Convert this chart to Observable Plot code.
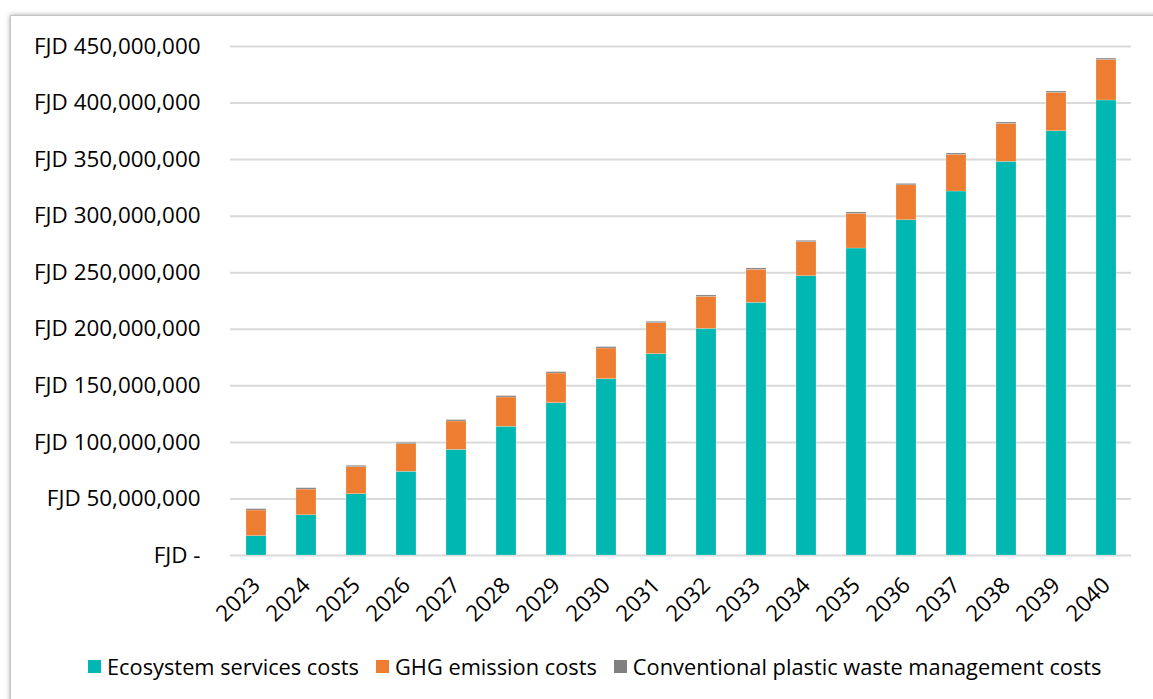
<!DOCTYPE html>
<html>
<head>
<meta charset="utf-8">
<script src="https://cdn.jsdelivr.net/npm/d3@7"></script>
<script src="https://cdn.jsdelivr.net/npm/@observablehq/plot@0.6"></script>
<style>
  html, body { margin: 0; padding: 0; background: #fff; }
  body { width: 1153px; height: 699px; position: relative; overflow: hidden; font-family: "Open Sans", sans-serif; }
  #frame {
    position: absolute; left: 10px; top: 15px; width: 1200px; height: 720px;
    border-left: 1px solid #c4c4c4; border-top: 1px solid #c4c4c4;
    box-shadow: 0 0 5px rgba(0,0,0,0.35); background: #fff;
  }
  #chart { position: absolute; left: 0; top: 0; }
  #legend {
    position: absolute; left: 88px; top: 652px; display: flex; align-items: center;
    font-size: 21.8px; color: #000; white-space: nowrap;
  }
  #legend .item { display: flex; align-items: center; margin-right: 17px; }
  #legend .sw { width: 13px; height: 13px; margin-right: 6px; }
</style>
</head>
<body>
<div id="frame"></div>
<div id="chart"></div>
<div id="legend"></div>
<script>
// Annual costs (FJD) by component, 2023–2040
const years = ["2023","2024","2025","2026","2027","2028","2029","2030","2031",
               "2032","2033","2034","2035","2036","2037","2038","2039","2040"];
const seriesNames = ["Ecosystem services costs", "GHG emission costs",
                     "Conventional plastic waste management costs"];
const seriesColors = ["#00B8B1", "#ED7D31", "#808080"];

// values in millions of FJD
const ecosystemCosts = [17.1, 35.6, 54.2, 74.0, 93.4, 113.8, 134.7, 155.9, 178.0,
                        200.4, 223.4, 246.9, 271.4, 296.4, 321.8, 348.0, 375.1, 402.3];
const ghgCosts       = [22.7, 22.7, 23.9, 24.4, 25.1, 25.9, 26.2, 27.1, 27.4,
                        28.3, 29.2, 30.1, 30.7, 30.9, 32.4, 33.6, 33.9, 35.8];
const wasteCosts     = [1.2, 1.2, 1.2, 1.2, 1.2, 1.2, 1.2, 1.2, 1.2,
                        1.2, 1.2, 1.2, 1.2, 1.2, 1.2, 1.2, 1.2, 1.2];

const yTicks = [0, 50e6, 100e6, 150e6, 200e6, 250e6, 300e6, 350e6, 400e6, 450e6];

const seriesValues = [ecosystemCosts, ghgCosts, wasteCosts];
const rows = years.flatMap((year, i) =>
  seriesNames.map((name, s) => ({ year, series: name, value: seriesValues[s][i] * 1e6 }))
);

const fmt = d3.format(",");
const chart = Plot.plot({
  width: 1153,
  height: 640,
  marginLeft: 230,
  marginRight: 22,
  marginTop: 46,
  marginBottom: 85,
  style: { fontFamily: "'Open Sans', sans-serif", fontSize: "22.4px", color: "#000", background: "transparent" },
  x: { domain: years, paddingInner: 0.6, paddingOuter: 0.3, label: null },
  y: { domain: [0, 450e6], label: null },
  color: { domain: seriesNames, range: seriesColors },
  marks: [
    Plot.gridY(yTicks, { stroke: "#d9d9d9", strokeOpacity: 1, strokeWidth: 2 }),
    Plot.barY(rows, {
      x: "year", y: "value", fill: "series", order: seriesNames,
      stroke: "#ffffff", strokeOpacity: 0.35, strokeWidth: 0.6
    }),
    Plot.axisY({
      ticks: yTicks, tickSize: 0, tickPadding: 30, label: null,
      tickFormat: d => d === 0 ? "FJD -" : "FJD " + fmt(d)
    }),
    Plot.axisX({ tickSize: 0, tickPadding: 26, tickRotate: -45, label: null })
  ]
});
document.getElementById("chart").appendChild(chart);

// legend
const legend = document.getElementById("legend");
seriesNames.forEach((name, i) => {
  const item = document.createElement("div");
  item.className = "item";
  const sw = document.createElement("span");
  sw.className = "sw";
  sw.style.background = seriesColors[i];
  const label = document.createElement("span");
  label.textContent = name;
  item.appendChild(sw);
  item.appendChild(label);
  legend.appendChild(item);
});
</script>
</body>
</html>
